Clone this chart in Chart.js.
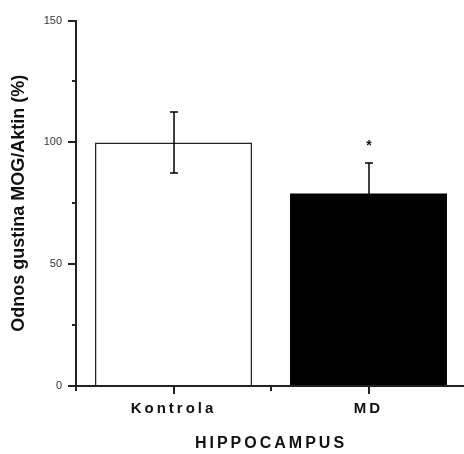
<!DOCTYPE html>
<html>
<head>
<meta charset="utf-8">
<script src="https://cdn.jsdelivr.net/npm/chart.js@4"></script>
<style>
	html, body { margin: 0; padding: 0; background: #fff; overflow: hidden; }
	#wrap { width: 466px; height: 454px; }
</style>
</head>
<body>
<div id="wrap"><canvas id="mogChart"></canvas></div>
<script>
// MOG/Aktin, hipokampus
const groups = ['Kontrola', 'MD'];
const means = [100, 79];
const sem = [12.5, 12.5];
const marks = ['', '*'];
const barColors = ['#ffffff', '#000000'];
const yTicks = [0, 50, 100, 150];
const yMinorTicks = [25, 75, 125];

const fontFamily = "'Liberation Sans', Arial, sans-serif";

// razmak slova: y osa bez razmaka, natpisi x ose (crtaju se posle stubova) sa razmakom
const spacingPlugin = {
	id: 'spacing',
	beforeDraw: function(chart){
		chart.ctx.letterSpacing = '0px';
	},
	afterDatasetsDraw: function(chart){
		chart.ctx.letterSpacing = '3px';
	}
};

// crtice na osama (velike i male)
const tickMarks = {
	id: 'tickMarks',
	afterDraw: function(chart){
		const ctx = chart.ctx;
		const x = chart.scales.x;
		const y = chart.scales.y;
		const axisX = chart.chartArea.left;
		const axisY = chart.chartArea.bottom;
		ctx.save();
		ctx.strokeStyle = '#222';
		ctx.lineWidth = 2;
		ctx.beginPath();
		yTicks.forEach(function(v){
			const py = Math.round(y.getPixelForValue(v));
			ctx.moveTo(axisX - 8, py);
			ctx.lineTo(axisX, py);
		});
		yMinorTicks.forEach(function(v){
			const py = Math.round(y.getPixelForValue(v));
			ctx.moveTo(axisX - 4, py);
			ctx.lineTo(axisX, py);
		});
		for(var i=0; i<groups.length; i++){
			const px = Math.round(x.getPixelForValue(i));
			ctx.moveTo(px, axisY);
			ctx.lineTo(px, axisY + 8);
			const half = Math.round(x.getPixelForValue(i - 0.5));
			ctx.moveTo(half, axisY);
			ctx.lineTo(half, axisY + 5);
		}
		ctx.stroke();
		ctx.restore();
	}
};

// standardna greska i oznaka znacajnosti
const errorBars = {
	id: 'errorBars',
	afterDatasetsDraw: function(chart){
		const ctx = chart.ctx;
		const y = chart.scales.y;
		const meta = chart.getDatasetMeta(0);
		ctx.save();
		ctx.letterSpacing = '0px';
		ctx.strokeStyle = '#000';
		ctx.lineWidth = 1.5;
		for(var i=0; i<means.length; i++){
			const px = Math.round(meta.data[i].x);
			const top = Math.round(y.getPixelForValue(means[i] + sem[i]));
			const bottom = Math.round(y.getPixelForValue(means[i] - sem[i]));
			ctx.beginPath();
			ctx.moveTo(px, top);
			ctx.lineTo(px, bottom);
			ctx.moveTo(px - 4, top);
			ctx.lineTo(px + 4, top);
			ctx.moveTo(px - 4, bottom);
			ctx.lineTo(px + 4, bottom);
			ctx.stroke();
			if(marks[i]){
				ctx.fillStyle = '#111';
				ctx.font = 'bold 14px ' + fontFamily;
				ctx.textAlign = 'center';
				ctx.textBaseline = 'alphabetic';
				ctx.fillText(marks[i], px, top - 13);
			}
		}
		ctx.restore();
	}
};

const data = {
	labels: groups,
	datasets: [{
		data: means,
		backgroundColor: barColors,
		borderColor: ['#222', '#000'],
		borderWidth: [1.5, 0],
		categoryPercentage: 1,
		barPercentage: 0.805
	}]
};

const config = {
	type: 'bar',
	data: data,
	options: {
		responsive: true,
		maintainAspectRatio: false,
		animation: false,
		layout: { padding: { top: 20, right: 0, bottom: 0, left: 0 } },
		plugins: {
			legend: { display: false },
			tooltip: { enabled: false }
		},
		scales: {
			x: {
				offset: true,
				afterFit: function(scale){ scale.height = 68; },
				grid: { z: 1, drawOnChartArea: false, drawTicks: false },
				border: { z: 1, display: true, color: '#222', width: 2 },
				ticks: {
					z: 1,
					padding: 14,
					color: '#111',
					font: { family: fontFamily, size: 15, weight: 'bold' }
				},
				title: {
					display: true,
					text: 'HIPPOCAMPUS',
					color: '#111',
					padding: { top: 0, bottom: 1 },
					font: { family: fontFamily, size: 16, weight: 'bold' }
				}
			},
			y: {
				min: 0,
				max: 150,
				afterFit: function(scale){ scale.width = 76; },
				grid: { drawOnChartArea: false, drawTicks: false },
				border: { display: true, color: '#222', width: 2 },
				ticks: {
					stepSize: 50,
					padding: 14,
					color: '#333',
					font: { family: fontFamily, size: 11 }
				},
				title: {
					display: true,
					text: 'Odnos gustina MOG/Aktin (%)',
					color: '#111',
					padding: { top: 8, bottom: 0 },
					font: { family: fontFamily, size: 18, weight: 'bold' }
				}
			}
		}
	},
	plugins: [spacingPlugin, errorBars, tickMarks]
};

const myChart = new Chart(document.getElementById('mogChart'), config);
</script>
</body>
</html>
